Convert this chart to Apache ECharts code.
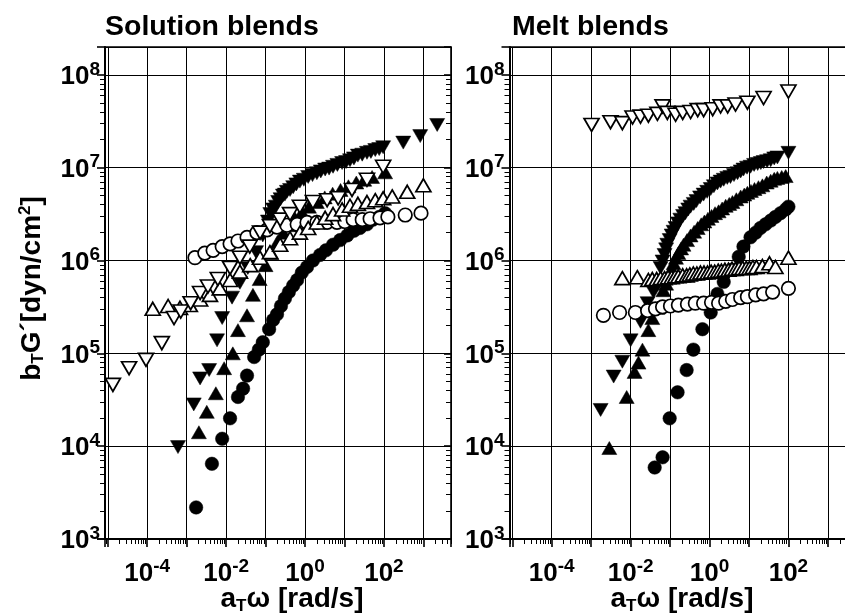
<!DOCTYPE html>
<html><head><meta charset="utf-8">
<script src="https://cdn.jsdelivr.net/npm/echarts@6/dist/echarts.min.js"></script>
<style>html,body{margin:0;padding:0;background:#fff}#c{width:845px;height:614px}</style>
</head><body><div id="c"></div>
<script>
// Values, as [log10(aT·ω in rad/s), log10(bT·G' in dyn/cm²)]
// ---- Solution blends ----
const solFilledCircle = [[-2.76,3.34],[-2.36,3.81],[-2.10,4.08],[-1.90,4.30],[-1.70,4.53],[-1.57,4.62],[-1.47,4.76],[-1.29,4.96],[-1.17,5.04],[-1.07,5.12],[-0.91,5.26],[-0.81,5.36],[-0.71,5.42],[-0.61,5.51],[-0.51,5.59],[-0.41,5.66],[-0.30,5.73],[-0.20,5.79],[-0.08,5.87],[0.05,5.93],[0.20,6.00],[0.38,6.06],[0.53,6.11],[0.71,6.17],[0.89,6.22],[1.07,6.27],[1.24,6.32],[1.39,6.35],[1.57,6.39],[1.72,6.44],[1.88,6.47],[2.03,6.51]];
const solFilledUp = [[-2.69,4.15],[-2.49,4.37],[-2.26,4.57],[-2.05,4.84],[-1.83,5.00],[-1.70,5.25],[-1.47,5.41],[-1.32,5.63],[-1.15,5.80],[-1.00,5.95],[-0.85,6.08],[-0.70,6.20],[-0.55,6.30],[-0.40,6.38],[-0.25,6.45],[-0.08,6.52],[0.10,6.58],[0.30,6.63],[0.50,6.68],[0.70,6.72],[0.90,6.76],[1.10,6.80],[1.30,6.84],[1.50,6.87],[1.70,6.90],[2.03,6.95]];
const solFilledDown = [[-3.22,3.99],[-2.82,4.45],[-2.66,4.73],[-2.43,4.82],[-2.23,5.14],[-2.10,5.38],[-1.85,5.60],[-1.65,5.76],[-1.45,5.92],[-1.24,6.09],[-1.07,6.27],[-0.94,6.42],[-0.88,6.50],[-0.81,6.55],[-0.74,6.58],[-0.68,6.63],[-0.62,6.66],[-0.56,6.70],[-0.51,6.71],[-0.46,6.74],[-0.38,6.76],[-0.30,6.79],[-0.22,6.82],[-0.13,6.85],[-0.03,6.87],[0.08,6.90],[0.19,6.92],[0.30,6.94],[0.40,6.96],[0.51,6.98],[0.61,6.99],[0.71,7.01],[0.82,7.03],[0.94,7.05],[1.04,7.06],[1.14,7.08],[1.24,7.10],[1.34,7.13],[1.45,7.14],[1.57,7.16],[1.67,7.17],[1.78,7.19],[1.88,7.20],[1.98,7.22],[2.49,7.27],[2.92,7.34],[3.35,7.46]];
const solOpenCircle = [[-2.79,6.03],[-2.54,6.08],[-2.33,6.11],[-2.10,6.15],[-1.90,6.18],[-1.70,6.21],[-1.47,6.25],[-1.22,6.30],[-0.96,6.33],[-0.71,6.36],[-0.46,6.38],[-0.20,6.39],[0.05,6.41],[0.30,6.41],[0.56,6.41],[0.81,6.41],[1.01,6.42],[1.22,6.44],[1.45,6.44],[1.65,6.45],[1.90,6.46],[2.10,6.47],[2.54,6.49],[2.94,6.51]];
const solOpenUp = [[-3.86,5.48],[-3.47,5.51],[-3.17,5.49],[-2.92,5.52],[-2.66,5.58],[-2.41,5.63],[-2.16,5.70],[-1.90,5.79],[-1.65,5.88],[-1.39,5.95],[-1.14,6.03],[-0.89,6.09],[-0.63,6.17],[-0.38,6.24],[-0.13,6.30],[0.08,6.35],[0.30,6.41],[0.51,6.46],[0.71,6.50],[0.94,6.55],[1.14,6.59],[1.34,6.61],[1.57,6.63],[1.78,6.65],[1.98,6.67],[2.21,6.69],[2.59,6.74],[3.00,6.81]];
const solOpenDown = [[-4.87,4.66],[-4.46,4.84],[-4.03,4.93],[-3.63,5.11],[-3.32,5.38],[-3.15,5.45],[-2.90,5.54],[-2.66,5.65],[-2.46,5.72],[-2.21,5.80],[-1.90,5.92],[-1.65,6.03],[-1.40,6.15],[-1.14,6.30],[-0.89,6.37],[-0.63,6.44],[-0.38,6.50],[-0.13,6.58],[0.20,6.63],[0.56,6.65],[0.84,6.67],[1.19,6.76],[1.57,6.87],[1.98,7.01]];
// ---- Melt blends ----
const meltFilledCircle = [[-1.39,3.77],[-1.19,3.88],[-1.01,4.30],[-0.81,4.58],[-0.58,4.82],[-0.41,5.04],[-0.18,5.26],[0.03,5.44],[0.20,5.64],[0.36,5.77],[0.55,5.90],[0.74,6.04],[0.86,6.15],[1.04,6.25],[1.17,6.30],[1.29,6.35],[1.42,6.39],[1.55,6.43],[1.67,6.47],[1.80,6.51],[1.93,6.55],[2.00,6.58]];
const meltFilledUp = [[-2.54,3.98],[-2.10,4.53],[-1.90,4.80],[-1.80,4.90],[-1.70,5.04],[-1.55,5.25],[-1.45,5.38],[-1.32,5.49],[-1.17,5.68],[-1.10,5.75],[-1.04,5.82],[-0.97,5.90],[-0.91,5.97],[-0.85,6.03],[-0.79,6.08],[-0.72,6.13],[-0.66,6.17],[-0.57,6.22],[-0.48,6.27],[-0.39,6.31],[-0.30,6.35],[-0.21,6.39],[-0.13,6.42],[-0.04,6.45],[0.05,6.48],[0.14,6.51],[0.23,6.53],[0.32,6.56],[0.41,6.59],[0.50,6.61],[0.58,6.63],[0.68,6.66],[0.79,6.69],[0.88,6.71],[0.96,6.73],[1.05,6.75],[1.14,6.77],[1.24,6.79],[1.34,6.81],[1.45,6.84],[1.55,6.86],[1.64,6.88],[1.72,6.89],[1.83,6.90],[1.93,6.91]];
const meltFilledDown = [[-2.76,4.39],[-2.43,4.75],[-2.21,4.91],[-2.00,5.14],[-1.75,5.34],[-1.57,5.54],[-1.42,5.66],[-1.32,5.74],[-1.24,5.92],[-1.19,5.99],[-1.14,6.06],[-1.10,6.12],[-1.07,6.17],[-1.01,6.22],[-0.96,6.27],[-0.91,6.31],[-0.86,6.35],[-0.80,6.40],[-0.74,6.44],[-0.67,6.48],[-0.61,6.51],[-0.54,6.55],[-0.48,6.58],[-0.40,6.61],[-0.33,6.64],[-0.24,6.68],[-0.15,6.71],[-0.06,6.74],[0.03,6.77],[0.11,6.80],[0.20,6.83],[0.28,6.85],[0.36,6.87],[0.45,6.89],[0.53,6.90],[0.62,6.92],[0.71,6.94],[0.79,6.96],[0.86,6.98],[0.95,7.00],[1.04,7.01],[1.13,7.03],[1.22,7.04],[1.30,7.05],[1.37,7.06],[1.46,7.07],[1.55,7.08],[1.64,7.10],[1.72,7.11],[2.00,7.16]];
const meltOpenCircle = [[-2.69,5.41],[-2.28,5.44],[-1.88,5.44],[-1.57,5.46],[-1.37,5.48],[-1.19,5.50],[-0.99,5.51],[-0.79,5.52],[-0.56,5.53],[-0.36,5.54],[-0.15,5.54],[0.05,5.55],[0.23,5.54],[0.41,5.56],[0.58,5.58],[0.79,5.60],[0.96,5.61],[1.17,5.63],[1.37,5.64],[1.60,5.66],[2.00,5.70]];
const meltOpenUp = [[-2.21,5.81],[-1.83,5.82],[-1.55,5.79],[-1.45,5.80],[-1.34,5.80],[-1.24,5.81],[-1.14,5.81],[-1.05,5.82],[-0.96,5.82],[-0.87,5.83],[-0.79,5.83],[-0.68,5.84],[-0.58,5.84],[-0.50,5.85],[-0.41,5.86],[-0.32,5.86],[-0.23,5.87],[-0.14,5.87],[-0.05,5.87],[0.04,5.88],[0.13,5.88],[0.22,5.89],[0.30,5.89],[0.39,5.90],[0.48,5.90],[0.57,5.91],[0.66,5.91],[0.75,5.92],[0.84,5.92],[0.93,5.92],[1.01,5.92],[1.10,5.93],[1.19,5.93],[1.34,5.94],[1.52,5.97],[1.67,5.93],[2.00,6.03]];
const meltOpenDown = [[-2.99,7.46],[-2.51,7.49],[-2.21,7.48],[-1.95,7.54],[-1.75,7.55],[-1.55,7.56],[-1.32,7.58],[-1.19,7.66],[-1.07,7.59],[-0.86,7.57],[-0.68,7.59],[-0.48,7.60],[-0.30,7.62],[-0.15,7.62],[0.08,7.63],[0.28,7.66],[0.46,7.66],[0.66,7.68],[0.96,7.70],[1.37,7.75],[2.00,7.82]];

// tick label exponents
const xLabelExps = [-4, -2, 0, 2];
const yLabelExps = [3, 4, 5, 6, 7, 8];
const titles = ['Solution blends', 'Melt blends'];

const FONT = '"Liberation Sans", Arial, Helvetica, sans-serif';
const X_MIN = Math.pow(10, -5.07), X_MAX = Math.pow(10, 3.70);
const Y_MIN = 1e3, Y_MAX = Math.pow(10, 8.3);

const toVal = a => a.map(p => [Math.pow(10, p[0]), Math.pow(10, p[1])]);
function expOf(v) { const e = Math.log10(v); const r = Math.round(e); return Math.abs(e - r) < 1e-6 ? r : null; }
const labelRich = {
  b: { fontSize: 26, fontWeight: 'bold', fontFamily: FONT, color: '#000', lineHeight: 30, verticalAlign: 'bottom' },
  s: { fontSize: 19, fontWeight: 'bold', fontFamily: FONT, color: '#000', lineHeight: 13, verticalAlign: 'top' }
};
function fmt(list) {
  return v => { const e = expOf(v); return (e !== null && list.indexOf(e) >= 0) ? '{b|10}{s|' + (e < 0 ? '-' + (-e) : e) + '}' : ''; };
}
const BLACK = '#000';
function xBottom(gi) {
  return { gridIndex: gi, type: 'log', logBase: 10, min: X_MIN, max: X_MAX, position: 'bottom',
    axisLine: { show: true, onZero: false, lineStyle: { color: BLACK, width: 2 } },
    axisTick: { show: true, inside: false, length: 8, lineStyle: { color: BLACK, width: 1.6 } },
    minorTick: { show: true, splitNumber: 9, length: 5, lineStyle: { color: BLACK, width: 1 } },
    axisLabel: { show: true, interval: 0, margin: 18, formatter: fmt(xLabelExps), rich: labelRich, color: BLACK },
    splitLine: { show: true, lineStyle: { color: BLACK, width: 1 } },
    minorSplitLine: { show: false } };
}
function xTop(gi) {
  return { gridIndex: gi, type: 'log', logBase: 10, min: X_MIN, max: X_MAX, position: 'top',
    axisLine: { show: true, onZero: false, lineStyle: { color: BLACK, width: 1.6 } },
    axisTick: { show: false }, minorTick: { show: false }, axisLabel: { show: false }, splitLine: { show: false } };
}
function yLeft(gi) {
  return { gridIndex: gi, type: 'log', logBase: 10, min: Y_MIN, max: Y_MAX, position: 'left',
    axisLine: { show: true, onZero: false, lineStyle: { color: BLACK, width: 2 } },
    axisTick: { show: true, inside: false, length: 8, lineStyle: { color: BLACK, width: 1.6 } },
    minorTick: { show: true, splitNumber: 9, length: 5, lineStyle: { color: BLACK, width: 1 } },
    axisLabel: { show: true, interval: 0, margin: 5, formatter: fmt(yLabelExps), rich: labelRich, color: BLACK },
    splitLine: { show: true, lineStyle: { color: BLACK, width: 1 } } };
}
function yRight(gi) {
  return { gridIndex: gi, type: 'log', logBase: 10, min: Y_MIN, max: Y_MAX, position: 'right',
    axisLine: { show: true, onZero: false, lineStyle: { color: BLACK, width: 1.6 } },
    axisTick: { show: true, inside: true, length: 7, lineStyle: { color: BLACK, width: 1.6 } },
    minorTick: { show: true, splitNumber: 9, length: 5, lineStyle: { color: BLACK, width: 1 } },
    axisLabel: { show: false }, splitLine: { show: false } };
}
function ser(data, xi, yi, kind, filled) {
  return { type: 'scatter', xAxisIndex: xi, yAxisIndex: yi, data: toVal(data), silent: true,
    symbol: kind === 'circle' ? 'circle' : 'triangle',
    symbolSize: kind === 'circle' ? 13.5 : [15, 13],
    symbolRotate: kind === 'down' ? 180 : 0,
    itemStyle: filled ? { color: BLACK, borderColor: BLACK, borderWidth: 0.5, opacity: 1 }
                      : { color: '#fff', borderColor: BLACK, borderWidth: 1.7, opacity: 1 } };
}
const nameRich = {
  n: { fontSize: 28, fontWeight: 'bold', fontFamily: FONT, fill: BLACK, color: BLACK, lineHeight: 30, verticalAlign: 'middle' },
  t: { fontSize: 17, fontWeight: 'bold', fontFamily: FONT, fill: BLACK, color: BLACK, lineHeight: 16, verticalAlign: 'bottom' },
  u: { fontSize: 17, fontWeight: 'bold', fontFamily: FONT, fill: BLACK, color: BLACK, lineHeight: 16, verticalAlign: 'top' }
};
const xName = '{n|a}{t|T}{n|\u03c9 [rad/s]}';
const yName = '{n|b}{t|T}{n|G\u00b4[dyn/cm}{u|2}{n|]}';

const chart = echarts.init(document.getElementById('c'), null, { renderer: 'canvas' });
chart.setOption({
  animation: false,
  backgroundColor: '#fff',
  grid: [
    { left: 105, top: 47, width: 346, height: 492, containLabel: false, outerBoundsMode: 'none' },
    { left: 509.5, top: 47, width: 346, height: 492, containLabel: false, outerBoundsMode: 'none' }
  ],
  xAxis: [xBottom(0), xTop(0), xBottom(1), xTop(1)],
  yAxis: [yLeft(0), yRight(0), yLeft(1)],
  series: [
    ser(solFilledCircle, 0, 0, 'circle', true),
    ser(solFilledUp, 0, 0, 'up', true),
    ser(solFilledDown, 0, 0, 'down', true),
    ser(solOpenCircle, 0, 0, 'circle', false),
    ser(solOpenUp, 0, 0, 'up', false),
    ser(solOpenDown, 0, 0, 'down', false),
    ser(meltFilledCircle, 2, 2, 'circle', true),
    ser(meltFilledUp, 2, 2, 'up', true),
    ser(meltFilledDown, 2, 2, 'down', true),
    ser(meltOpenCircle, 2, 2, 'circle', false),
    ser(meltOpenUp, 2, 2, 'up', false),
    ser(meltOpenDown, 2, 2, 'down', false)
  ],
  graphic: [
    { type: 'text', x: 105, y: 27, style: { text: titles[0], font: 'bold 28.5px ' + FONT, fill: BLACK, align: 'left', verticalAlign: 'middle' } },
    { type: 'text', x: 512, y: 27, style: { text: titles[1], font: 'bold 28.5px ' + FONT, fill: BLACK, align: 'left', verticalAlign: 'middle' } },
    { type: 'text', x: 292, y: 599.5, style: { text: xName, rich: nameRich, align: 'center', verticalAlign: 'middle' } },
    { type: 'text', x: 682, y: 599.5, style: { text: xName, rich: nameRich, align: 'center', verticalAlign: 'middle' } },
    { type: 'text', x: 32, y: 288.5, rotation: Math.PI / 2, style: { text: yName, rich: nameRich, align: 'center', verticalAlign: 'middle' } }
  ]
});
</script></body></html>
